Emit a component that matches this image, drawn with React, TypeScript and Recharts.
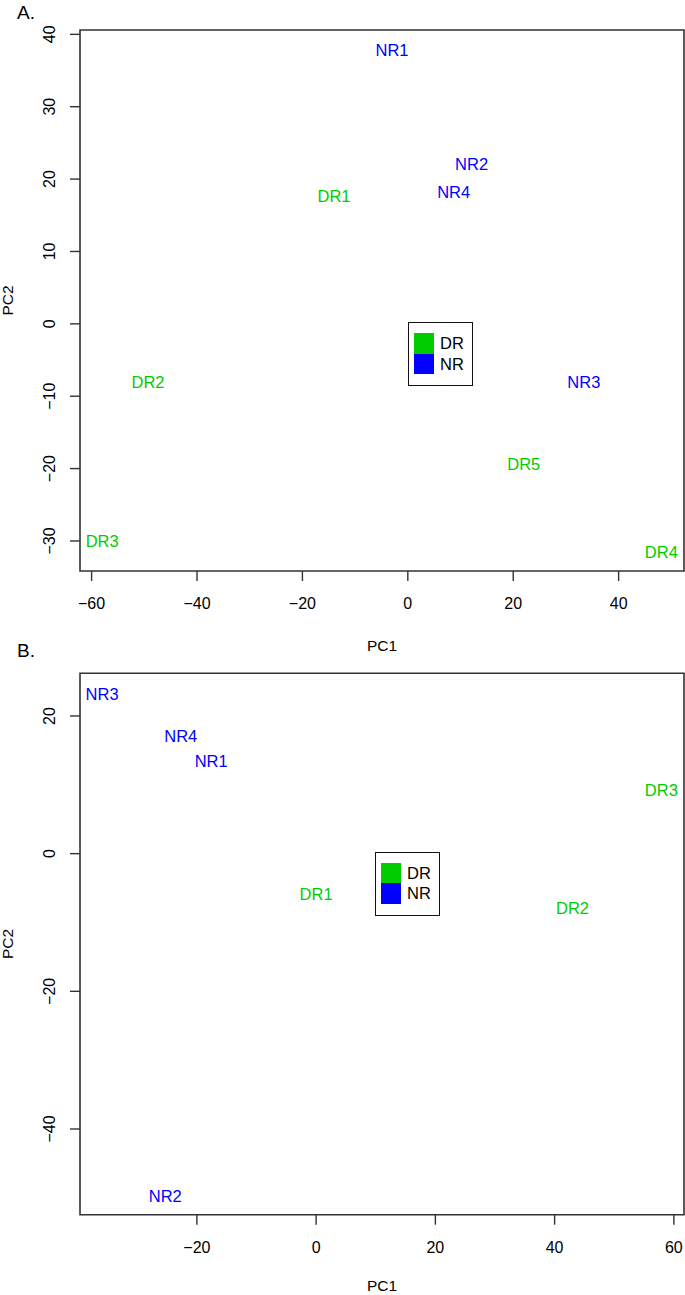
import { ReferenceArea, Scatter, ScatterChart, XAxis, YAxis } from 'recharts';

const FONT = '"Liberation Sans", Arial, Helvetica, sans-serif';
const GREEN = '#00cd00';
const BLUE = '#0000ff';
const FRAME = '#333333';

// Panel A
const aDrLabels = ['DR1', 'DR2', 'DR3', 'DR4', 'DR5'];
const aDrPC1 = [-14.0, -49.3, -58.0, 48.1, 22.0];
const aDrPC2 = [17.6, -8.1, -30.0, -31.5, -19.4];
const aNrLabels = ['NR1', 'NR2', 'NR3', 'NR4'];
const aNrPC1 = [-3.0, 12.1, 33.4, 8.7];
const aNrPC2 = [37.8, 22.1, -8.1, 18.2];
const aXTicks = [-60, -40, -20, 0, 20, 40];
const aYTicks = [-30, -20, -10, 0, 10, 20, 30, 40];

// Panel B
const bDrLabels = ['DR1', 'DR2', 'DR3'];
const bDrPC1 = [0.0, 43.0, 57.9];
const bDrPC2 = [-5.9, -7.9, 9.3];
const bNrLabels = ['NR1', 'NR2', 'NR3', 'NR4'];
const bNrPC1 = [-17.6, -25.3, -35.9, -22.7];
const bNrPC2 = [13.5, -49.7, 23.2, 17.1];
const bXTicks = [-20, 0, 20, 40, 60];
const bYTicks = [-40, -20, 0, 20];

const groupNames = ['DR', 'NR'];
const groupColors = [GREEN, BLUE];

type Point = { label: string; x: number; y: number };

function toPoints(labels: string[], xs: number[], ys: number[]): Point[] {
  return labels.map((label, i) => ({ label, x: xs[i], y: ys[i] }));
}

const minus = (v: number) => String(v).replace('-', '\u2212');

function XTick({ x, y, payload }: any) {
  return (
    <text x={x} y={y + 26} textAnchor="middle" fontFamily={FONT} fontSize={16} fill="#000">
      {minus(payload.value)}
    </text>
  );
}

function YTick({ x, y, payload }: any) {
  const bx = x - 13;
  return (
    <text
      x={bx}
      y={y}
      textAnchor="middle"
      transform={`rotate(-90, ${bx}, ${y})`}
      fontFamily={FONT}
      fontSize={16}
      fill="#000"
    >
      {minus(payload.value)}
    </text>
  );
}

function labelShape(color: string) {
  return (props: any) => (
    <text
      x={props.cx}
      y={props.cy}
      textAnchor="middle"
      dominantBaseline="central"
      fontFamily={FONT}
      fontSize={16.5}
      fill={color}
    >
      {props.payload.label}
    </text>
  );
}

function LegendBox({ left, top }: { left: number; top: number }) {
  return (
    <div
      style={{
        position: 'absolute',
        left,
        top,
        boxSizing: 'border-box',
        width: 65,
        height: 64,
        border: '1.4px solid #111',
        background: '#fff',
        paddingTop: 10,
        paddingLeft: 5,
        fontFamily: FONT,
        fontSize: 16.5,
        lineHeight: '20.5px',
      }}
    >
      {groupNames.map((name, i) => (
        <div key={name} style={{ display: 'flex', alignItems: 'center', height: 20.5 }}>
          <span style={{ display: 'inline-block', width: 20, height: 20.5, background: groupColors[i] }} />
          <span style={{ marginLeft: 6, color: '#000' }}>{name}</span>
        </div>
      ))}
    </div>
  );
}

type PanelProps = {
  top: number;
  height: number;
  marginTop: number;
  xAxisHeight: number;
  titleOffset: number;
  xDomain: [number, number];
  yDomain: [number, number];
  xTicks: number[];
  yTicks: number[];
  dr: Point[];
  nr: Point[];
};

function Panel(p: PanelProps) {
  return (
    <div style={{ position: 'absolute', left: 0, top: p.top }}>
      <ScatterChart
        width={685}
        height={p.height}
        margin={{ top: p.marginTop, right: 1, bottom: 0, left: 0 }}
      >
        <XAxis
          type="number"
          dataKey="x"
          domain={p.xDomain}
          allowDataOverflow
          ticks={p.xTicks}
          interval={0}
          height={p.xAxisHeight}
          axisLine={false}
          tickLine={{ stroke: FRAME, strokeWidth: 1.4 }}
          tickSize={10}
          tick={<XTick />}
          label={{
            content: (lp: any) => {
              const vb = lp.viewBox;
              return (
                <text
                  x={vb.x + vb.width / 2}
                  y={vb.y + p.titleOffset}
                  textAnchor="middle"
                  fontFamily={FONT}
                  fontSize={15.5}
                  fill="#000"
                >
                  PC1
                </text>
              );
            },
          }}
        />
        <YAxis
          type="number"
          dataKey="y"
          domain={p.yDomain}
          allowDataOverflow
          ticks={p.yTicks}
          interval={0}
          width={80}
          axisLine={false}
          tickLine={{ stroke: FRAME, strokeWidth: 1.4 }}
          tickSize={10}
          tick={<YTick />}
          label={{
            content: (lp: any) => {
              const vb = lp.viewBox;
              const cy = vb.y + vb.height / 2;
              return (
                <text
                  x={12.5}
                  y={cy}
                  textAnchor="middle"
                  transform={`rotate(-90, 12.5, ${cy})`}
                  fontFamily={FONT}
                  fontSize={15.5}
                  fill="#000"
                >
                  PC2
                </text>
              );
            },
          }}
        />
        <ReferenceArea
          x1={p.xDomain[0]}
          x2={p.xDomain[1]}
          y1={p.yDomain[0]}
          y2={p.yDomain[1]}
          fill="none"
          fillOpacity={0}
          stroke={FRAME}
          strokeWidth={1.6}
          ifOverflow="visible"
        />
        <Scatter name="DR" data={p.dr} shape={labelShape(GREEN)} isAnimationActive={false} />
        <Scatter name="NR" data={p.nr} shape={labelShape(BLUE)} isAnimationActive={false} />
      </ScatterChart>
    </div>
  );
}

export default function App() {
  return (
    <div style={{ position: 'absolute', left: 0, top: 0, width: 685, height: 1295, background: '#fff' }}>
      <Panel
        top={0}
        height={660}
        marginTop={30}
        xAxisHeight={89}
        titleOffset={80}
        xDomain={[-62.2, 52.4]}
        yDomain={[-34.15, 40.6]}
        xTicks={aXTicks}
        yTicks={aYTicks}
        dr={toPoints(aDrLabels, aDrPC1, aDrPC2)}
        nr={toPoints(aNrLabels, aNrPC1, aNrPC2)}
      />
      <Panel
        top={660}
        height={635}
        marginTop={13.3}
        xAxisHeight={80.3}
        titleOffset={76}
        xDomain={[-39.6, 61.7]}
        yDomain={[-52.45, 26.2]}
        xTicks={bXTicks}
        yTicks={bYTicks}
        dr={toPoints(bDrLabels, bDrPC1, bDrPC2)}
        nr={toPoints(bNrLabels, bNrPC1, bNrPC2)}
      />
      <LegendBox left={408} top={322} />
      <LegendBox left={375} top={851.7} />
      <svg width={685} height={1295} style={{ position: 'absolute', left: 0, top: 0, pointerEvents: 'none' }}>
        <text x={17} y={18.5} fontFamily={FONT} fontSize={19} fill="#000">
          A.
        </text>
        <text x={17} y={657} fontFamily={FONT} fontSize={19} fill="#000">
          B.
        </text>
      </svg>
    </div>
  );
}
